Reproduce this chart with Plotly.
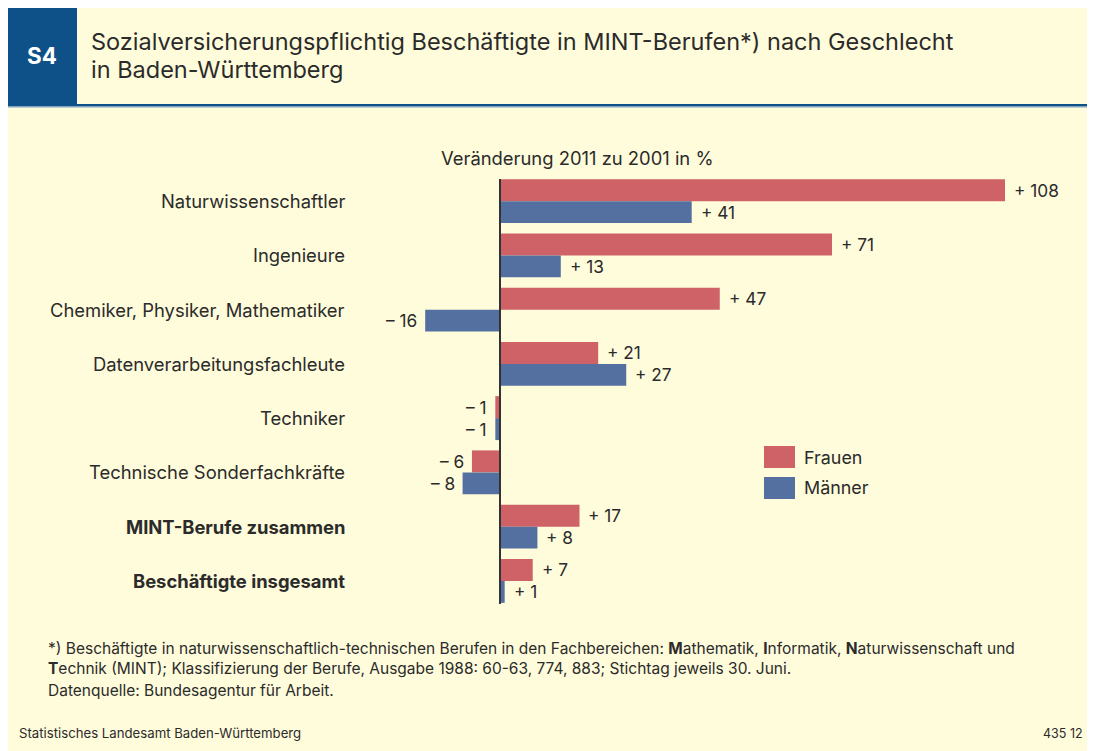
import plotly.graph_objects as go

# The page places the figure 8 px from the top-left corner of the window.
OX, OY = 8, 8
W, H = 1087, 743

categories = [
    "Naturwissenschaftler",
    "Ingenieure",
    "Chemiker, Physiker, Mathematiker",
    "Datenverarbeitungsfachleute",
    "Techniker",
    "Technische Sonderfachkräfte",
    "MINT-Berufe zusammen",
    "Beschäftigte insgesamt",
]
bold_categories = ["MINT-Berufe zusammen", "Beschäftigte insgesamt"]
frauen = [108, 71, 47, 21, -1, -6, 17, 7]
maenner = [41, 13, -16, 27, -1, -8, 8, 1]

RED = "#CF6266"
BLUE = "#5470A0"
BG = "#FFFCDB"
DARKBLUE = "#0D5188"
TXT = "#2B2B2B"
FONT = "Inter, Liberation Sans, Arial, sans-serif"


def px(x):
    return (x - OX) / W


def py(y):
    return 1 - (y - OY) / H


zero_px = 500.0
scale = (1005 - 500) / 108.0
x_left, x_right = 400, 1060
xrange = [(x_left - zero_px) / scale, (x_right - zero_px) / scale]

fig = go.Figure()
fig.add_trace(go.Bar(y=categories, x=frauen, orientation="h", name="Frauen",
                     marker=dict(color=RED, line=dict(width=0))))
fig.add_trace(go.Bar(y=categories, x=maenner, orientation="h", name="Männer",
                     marker=dict(color=BLUE, line=dict(width=0))))


def fmt(v):
    return ("+ " if v >= 0 else "– ") + str(abs(v))


LBL = 18.4
annotations = []
for cat, fv, mv in zip(categories, frauen, maenner):
    for v, ys in ((fv, 11), (mv, -11)):
        annotations.append(dict(
            x=v, y=cat, xref="x", yref="y", text=fmt(v), showarrow=False,
            xanchor="left" if v >= 0 else "right",
            xshift=7 if v >= 0 else -6, yshift=ys,
            font=dict(size=17.3, color=TXT, family=FONT)))
    label = f"<b>{cat}</b>" if cat in bold_categories else cat
    annotations.append(dict(
        x=px(347), y=cat, xref="paper", yref="y", text=label, showarrow=False,
        xanchor="right", yanchor="middle",
        font=dict(size=LBL, color=TXT, family=FONT)))

annotations += [
    dict(x=px(42), y=py(56), xref="paper", yref="paper", text="<b>S4</b>",
         showarrow=False, xanchor="center", yanchor="middle",
         font=dict(size=22.5, color="white", family=FONT)),
    dict(x=px(89), y=py(42), xref="paper", yref="paper",
         text="Sozialversicherungspflichtig Beschäftigte in MINT-Berufen*) nach Geschlecht",
         showarrow=False, xanchor="left", yanchor="middle",
         font=dict(size=23.5, color=TXT, family=FONT)),
    dict(x=px(89), y=py(69), xref="paper", yref="paper",
         text="in Baden-Württemberg",
         showarrow=False, xanchor="left", yanchor="middle",
         font=dict(size=23.5, color=TXT, family=FONT)),
    dict(x=px(577), y=py(158), xref="paper", yref="paper",
         text="Veränderung 2011 zu 2001 in %",
         showarrow=False, xanchor="center", yanchor="middle",
         font=dict(size=LBL, color=TXT, family=FONT)),
    dict(x=px(802), y=py(457), xref="paper", yref="paper", text="Frauen",
         showarrow=False, xanchor="left", yanchor="middle",
         font=dict(size=17.9, color=TXT, family=FONT)),
    dict(x=px(802), y=py(488), xref="paper", yref="paper", text="Männer",
         showarrow=False, xanchor="left", yanchor="middle",
         font=dict(size=17.9, color=TXT, family=FONT)),
    dict(x=px(46), y=py(658), xref="paper", yref="paper",
         text="*) Beschäftigte in naturwissenschaftlich-technischen Berufen in den Fachbereichen: "
              "<b>M</b>athematik, <b>I</b>nformatik, <b>N</b>aturwissenschaft und<br>"
              "<b>T</b>echnik (MINT); Klassifizierung der Berufe, Ausgabe 1988: 60-63, 774, 883; Stichtag jeweils 30. Juni.",
         showarrow=False, xanchor="left", yanchor="middle", align="left",
         font=dict(size=15.5, color=TXT, family=FONT)),
    dict(x=px(46), y=py(690), xref="paper", yref="paper",
         text="Datenquelle: Bundesagentur für Arbeit.",
         showarrow=False, xanchor="left", yanchor="middle",
         font=dict(size=15.5, color=TXT, family=FONT)),
    dict(x=px(17), y=py(733), xref="paper", yref="paper",
         text="Statistisches Landesamt Baden-Württemberg",
         showarrow=False, xanchor="left", yanchor="middle",
         font=dict(size=13.2, color=TXT, family=FONT)),
    dict(x=px(1085), y=py(733), xref="paper", yref="paper", text="435 12",
         showarrow=False, xanchor="right", yanchor="middle",
         font=dict(size=12.5, color=TXT, family=FONT)),
]

shapes = [
    dict(type="rect", xref="paper", yref="paper", x0=0, x1=px(77), y0=py(104), y1=1,
         fillcolor=DARKBLUE, line=dict(width=0), layer="below"),
    dict(type="rect", xref="paper", yref="paper", x0=0, x1=1, y0=py(106.5), y1=py(104),
         fillcolor=DARKBLUE, line=dict(width=0), layer="below"),
    dict(type="rect", xref="paper", yref="paper", x0=0, x1=1, y0=py(107.5), y1=py(106.5),
         fillcolor="#7FA6C6", line=dict(width=0), layer="below"),
    dict(type="rect", xref="paper", yref="paper", x0=px(764), x1=px(795), y0=py(468), y1=py(446),
         fillcolor=RED, line=dict(width=0)),
    dict(type="rect", xref="paper", yref="paper", x0=px(764), x1=px(795), y0=py(499), y1=py(477),
         fillcolor=BLUE, line=dict(width=0)),
    dict(type="line", xref="x", yref="paper", x0=0, x1=0, y0=py(604), y1=py(179),
         line=dict(color="#333333", width=2)),
]

fig.update_layout(
    width=W, height=H,
    margin=dict(l=0, r=0, t=0, b=0),
    paper_bgcolor=BG,
    plot_bgcolor="rgba(0,0,0,0)",
    barmode="group", bargap=0.19, bargroupgap=0,
    showlegend=False,
    xaxis=dict(domain=[px(x_left), px(x_right)], range=xrange, visible=False, fixedrange=True),
    yaxis=dict(domain=[py(608), py(174)], type="category", categoryorder="array",
               categoryarray=categories, range=[len(categories) - 0.5, -0.5],
               visible=False, fixedrange=True),
    annotations=annotations,
    shapes=shapes,
    font=dict(family=FONT, color=TXT),
)

fig.write_html("out.html")
